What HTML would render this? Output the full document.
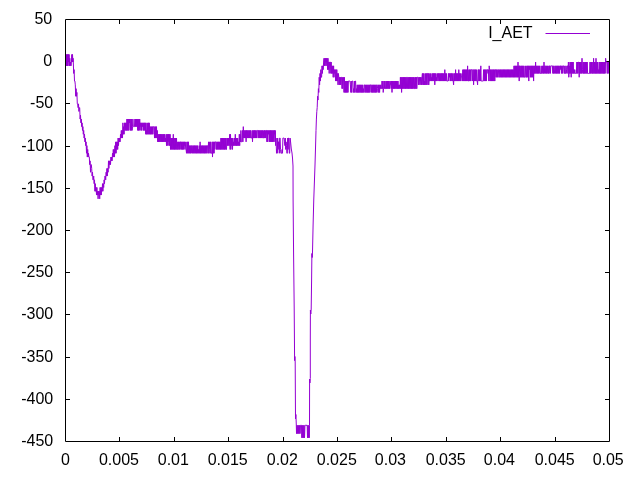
<!DOCTYPE html>
<html><head><meta charset="utf-8"><title>I_AET</title>
<style>
html,body{margin:0;padding:0;background:#fff;}
svg{display:block;will-change:transform;}
text{font-family:"Liberation Sans",sans-serif;font-size:16px;fill:#000;}
</style></head>
<body>
<svg width="640" height="480" viewBox="0 0 640 480">
<rect width="640" height="480" fill="#fff"/>
<path d="M119.5,441.5 v-4.5 M119.5,19.5 v4.5 M174.5,441.5 v-4.5 M174.5,19.5 v4.5 M228.5,441.5 v-4.5 M228.5,19.5 v4.5 M283.5,441.5 v-4.5 M283.5,19.5 v4.5 M337.5,441.5 v-4.5 M337.5,19.5 v4.5 M391.5,441.5 v-4.5 M391.5,19.5 v4.5 M446.5,441.5 v-4.5 M446.5,19.5 v4.5 M500.5,441.5 v-4.5 M500.5,19.5 v4.5 M555.5,441.5 v-4.5 M555.5,19.5 v4.5 M65.5,61.5 h4.5 M609.5,61.5 h-4.5 M65.5,103.5 h4.5 M609.5,103.5 h-4.5 M65.5,146.5 h4.5 M609.5,146.5 h-4.5 M65.5,188.5 h4.5 M609.5,188.5 h-4.5 M65.5,230.5 h4.5 M609.5,230.5 h-4.5 M65.5,272.5 h4.5 M609.5,272.5 h-4.5 M65.5,314.5 h4.5 M609.5,314.5 h-4.5 M65.5,357.5 h4.5 M609.5,357.5 h-4.5 M65.5,399.5 h4.5 M609.5,399.5 h-4.5 " stroke="#000" stroke-width="1" fill="none"/>
<text x="65.50" y="465.1" text-anchor="middle">0</text>
<text x="118.95" y="465.1" text-anchor="middle">0.005</text>
<text x="173.35" y="465.1" text-anchor="middle">0.01</text>
<text x="227.75" y="465.1" text-anchor="middle">0.015</text>
<text x="282.35" y="465.1" text-anchor="middle">0.02</text>
<text x="336.80" y="465.1" text-anchor="middle">0.025</text>
<text x="390.40" y="465.1" text-anchor="middle">0.03</text>
<text x="445.75" y="465.1" text-anchor="middle">0.035</text>
<text x="499.40" y="465.1" text-anchor="middle">0.04</text>
<text x="554.70" y="465.1" text-anchor="middle">0.045</text>
<text x="608.20" y="465.1" text-anchor="middle">0.05</text>
<text x="52.2" y="24" text-anchor="end">50</text>
<text x="52.2" y="66" text-anchor="end">0</text>
<text x="53.2" y="108" text-anchor="end">-50</text>
<text x="53.2" y="151" text-anchor="end">-100</text>
<text x="53.2" y="193" text-anchor="end">-150</text>
<text x="53.2" y="235" text-anchor="end">-200</text>
<text x="53.2" y="277" text-anchor="end">-250</text>
<text x="53.2" y="319" text-anchor="end">-300</text>
<text x="53.2" y="362" text-anchor="end">-350</text>
<text x="53.2" y="404" text-anchor="end">-400</text>
<text x="53.2" y="446" text-anchor="end">-450</text>

<text x="532.6" y="38" text-anchor="end">I_AET</text>
<path d="M545.5,33.5 H590" stroke="#9400d3" stroke-width="1" fill="none"/>
<path d="M66.00,65.85 L66.30,54.45 L66.65,65.85 L67.00,54.45 L67.35,65.85 L67.70,54.45 L68.05,65.85 L68.40,54.45 L68.75,62.05 L69.10,54.45 L69.45,65.85 L69.80,58.25 L70.20,65.85 L70.60,62.05 L71.00,65.85 L71.40,62.05 L71.80,54.45 L72.15,62.05 L72.50,54.45 L72.85,62.05 L73.10,58.25 L73.30,62.05 L73.70,73.45 L74.10,69.65 L74.50,81.05 L74.90,81.05 L75.30,84.85 L75.70,96.25 L76.10,88.65 L76.50,96.25 L76.90,92.45 L77.30,103.85 L77.70,103.85 L78.10,107.65 L78.50,103.85 L78.90,111.45 L79.30,107.65 L79.70,107.65 L80.10,119.05 L80.50,115.25 L80.90,122.85 L81.30,119.05 L81.70,126.65 L82.10,122.85 L82.50,130.45 L82.90,126.65 L83.30,134.25 L83.70,130.45 L84.10,138.05 L84.50,134.25 L84.90,141.85 L85.30,138.05 L85.70,145.65 L86.10,141.85 L86.50,153.25 L86.90,145.65 L87.30,157.05 L87.70,149.45 L88.10,157.05 L88.50,153.25 L88.90,157.05 L89.30,157.05 L89.70,164.65 L90.10,160.85 L90.50,172.25 L90.90,164.65 L91.30,164.65 L91.70,168.45 L92.10,176.05 L92.50,172.25 L92.90,179.85 L93.30,179.85 L93.70,176.05 L94.10,183.65 L94.50,179.85 L94.90,191.25 L95.30,183.65 L95.70,191.25 L96.10,187.45 L96.50,195.05 L96.90,187.45 L97.30,195.05 L97.70,191.25 L98.10,198.85 L98.50,191.25 L98.90,195.05 L99.30,191.25 L99.70,198.85 L100.10,187.45 L100.50,195.05 L100.90,187.45 L101.30,195.05 L101.70,187.45 L102.10,191.25 L102.50,183.65 L102.90,191.25 L103.30,183.65 L103.70,187.45 L104.10,179.85 L104.50,183.65 L104.90,176.05 L105.30,176.05 L105.70,179.85 L106.10,172.25 L106.50,176.05 L106.90,168.45 L107.30,176.05 L107.70,168.45 L108.10,172.25 L108.50,160.85 L108.90,168.45 L109.30,160.85 L109.70,164.65 L110.10,160.85 L110.50,164.65 L110.90,157.05 L111.30,160.85 L111.70,157.05 L112.10,160.85 L112.50,153.25 L112.90,157.05 L113.30,149.45 L113.70,157.05 L114.10,149.45 L114.50,157.05 L114.90,145.65 L115.30,153.25 L115.70,141.85 L116.10,153.25 L116.50,141.85 L116.90,149.45 L117.30,141.85 L117.70,149.45 L118.10,138.05 L118.50,145.65 L118.90,138.05 L119.30,141.85 L119.70,138.05 L120.10,141.85 L120.50,134.25 L120.90,138.05 L121.30,130.45 L121.70,138.05 L122.10,130.45 L122.50,138.05 L122.90,122.85 L123.30,134.25 L123.70,126.65 L124.10,134.25 L124.50,122.85 L124.90,130.45 L125.30,122.85 L125.70,130.45 L126.10,122.85 L126.50,130.45 L126.90,119.05 L127.30,130.45 L127.70,119.05 L128.10,130.45 L128.50,119.05 L128.90,130.45 L129.30,119.05 L129.70,122.85 L130.10,119.05 L130.50,130.45 L130.90,119.05 L131.30,130.45 L131.70,119.05 L132.10,130.45 L132.50,126.65 L132.90,119.05 L133.30,126.65 L133.70,126.65 L134.10,126.65 L134.50,126.65 L134.90,119.05 L135.30,126.65 L135.70,119.05 L136.10,126.65 L136.50,119.05 L136.90,126.65 L137.30,119.05 L137.70,130.45 L138.10,119.05 L138.50,130.45 L138.90,119.05 L139.30,130.45 L139.70,119.05 L140.10,126.65 L140.50,122.85 L140.90,130.45 L141.30,122.85 L141.70,130.45 L142.10,122.85 L142.50,126.65 L142.90,122.85 L143.30,130.45 L143.70,122.85 L144.10,130.45 L144.50,122.85 L144.90,130.45 L145.30,122.85 L145.70,134.25 L146.10,122.85 L146.50,134.25 L146.90,130.45 L147.30,134.25 L147.70,122.85 L148.10,134.25 L148.50,122.85 L148.90,134.25 L149.30,122.85 L149.70,134.25 L150.10,126.65 L150.50,134.25 L150.90,126.65 L151.30,134.25 L151.70,126.65 L152.10,134.25 L152.50,126.65 L152.90,134.25 L153.30,126.65 L153.70,126.65 L154.10,126.65 L154.50,138.05 L154.90,126.65 L155.30,138.05 L155.70,126.65 L156.10,138.05 L156.50,126.65 L156.90,138.05 L157.30,130.45 L157.70,141.85 L158.10,134.25 L158.50,141.85 L158.90,134.25 L159.30,141.85 L159.70,134.25 L160.10,141.85 L160.50,134.25 L160.90,141.85 L161.30,134.25 L161.70,141.85 L162.10,134.25 L162.50,141.85 L162.90,134.25 L163.30,141.85 L163.70,134.25 L164.10,141.85 L164.50,134.25 L164.90,141.85 L165.30,138.05 L165.70,141.85 L166.10,134.25 L166.50,145.65 L166.90,134.25 L167.30,145.65 L167.70,134.25 L168.10,141.85 L168.50,134.25 L168.90,145.65 L169.30,134.25 L169.70,145.65 L170.10,134.25 L170.50,149.45 L170.90,138.05 L171.30,149.45 L171.70,138.05 L172.10,149.45 L172.50,138.05 L172.90,149.45 L173.30,134.25 L173.70,149.45 L174.10,138.05 L174.50,149.45 L174.90,138.05 L175.30,149.45 L175.70,138.05 L176.10,149.45 L176.50,138.05 L176.90,149.45 L177.30,141.85 L177.70,149.45 L178.10,149.45 L178.50,141.85 L178.90,149.45 L179.30,141.85 L179.70,149.45 L180.10,141.85 L180.50,141.85 L180.90,149.45 L181.30,141.85 L181.70,149.45 L182.10,141.85 L182.50,149.45 L182.90,141.85 L183.30,149.45 L183.70,141.85 L184.10,149.45 L184.50,141.85 L184.90,145.65 L185.30,141.85 L185.70,149.45 L186.10,149.45 L186.50,153.25 L186.90,141.85 L187.30,153.25 L187.70,141.85 L188.10,153.25 L188.50,141.85 L188.90,153.25 L189.30,145.65 L189.70,153.25 L190.10,145.65 L190.50,153.25 L190.90,145.65 L191.30,153.25 L191.70,145.65 L192.10,145.65 L192.50,153.25 L192.90,145.65 L193.30,153.25 L193.70,145.65 L194.10,153.25 L194.50,145.65 L194.90,153.25 L195.30,145.65 L195.70,153.25 L196.10,145.65 L196.50,153.25 L196.90,145.65 L197.30,153.25 L197.70,145.65 L198.10,153.25 L198.50,149.45 L198.90,153.25 L199.30,145.65 L199.70,153.25 L200.10,141.85 L200.50,153.25 L200.90,145.65 L201.30,153.25 L201.70,145.65 L202.10,153.25 L202.50,145.65 L202.90,153.25 L203.30,145.65 L203.70,153.25 L204.10,145.65 L204.50,153.25 L204.90,145.65 L205.30,153.25 L205.70,145.65 L206.10,153.25 L206.50,145.65 L206.90,153.25 L207.30,145.65 L207.70,145.65 L208.10,153.25 L208.50,141.85 L208.90,153.25 L209.30,149.45 L209.70,141.85 L210.10,153.25 L210.50,141.85 L210.90,153.25 L211.30,153.25 L211.70,153.25 L212.10,141.85 L212.50,157.05 L212.90,141.85 L213.30,153.25 L213.70,141.85 L214.10,153.25 L214.50,141.85 L214.90,149.45 L215.30,141.85 L215.70,141.85 L216.10,141.85 L216.50,149.45 L216.90,141.85 L217.30,149.45 L217.70,141.85 L218.10,149.45 L218.50,141.85 L218.90,149.45 L219.30,141.85 L219.70,149.45 L220.10,141.85 L220.50,149.45 L220.90,138.05 L221.30,149.45 L221.70,138.05 L222.10,149.45 L222.50,138.05 L222.90,149.45 L223.30,138.05 L223.70,149.45 L224.10,138.05 L224.50,149.45 L224.90,138.05 L225.30,149.45 L225.70,138.05 L226.10,149.45 L226.50,149.45 L226.90,138.05 L227.30,145.65 L227.70,138.05 L228.10,145.65 L228.50,138.05 L228.90,145.65 L229.30,145.65 L229.70,134.25 L230.10,149.45 L230.50,134.25 L230.90,149.45 L231.30,138.05 L231.70,145.65 L232.10,138.05 L232.50,149.45 L232.90,138.05 L233.30,145.65 L233.70,141.85 L234.10,145.65 L234.50,138.05 L234.90,145.65 L235.30,134.25 L235.70,145.65 L236.10,138.05 L236.50,145.65 L236.90,138.05 L237.30,145.65 L237.70,138.05 L238.10,145.65 L238.50,141.85 L238.90,145.65 L239.30,134.25 L239.70,145.65 L240.10,134.25 L240.50,141.85 L240.90,130.45 L241.30,141.85 L241.70,141.85 L242.10,141.85 L242.50,130.45 L242.90,141.85 L243.30,126.65 L243.70,138.05 L244.10,130.45 L244.50,138.05 L244.90,130.45 L245.30,138.05 L245.70,130.45 L246.10,141.85 L246.50,130.45 L246.90,138.05 L247.30,130.45 L247.70,138.05 L248.10,130.45 L248.50,138.05 L248.90,130.45 L249.30,138.05 L249.70,130.45 L250.10,138.05 L250.50,130.45 L250.90,138.05 L251.30,138.05 L251.70,138.05 L252.10,130.45 L252.50,141.85 L252.90,130.45 L253.30,138.05 L253.70,130.45 L254.10,138.05 L254.50,130.45 L254.90,138.05 L255.30,130.45 L255.70,138.05 L256.10,130.45 L256.50,138.05 L256.90,130.45 L257.30,130.45 L257.70,130.45 L258.10,138.05 L258.50,130.45 L258.90,138.05 L259.30,130.45 L259.70,138.05 L260.10,130.45 L260.50,138.05 L260.90,130.45 L261.30,138.05 L261.70,130.45 L262.10,138.05 L262.50,130.45 L262.90,138.05 L263.30,138.05 L263.70,130.45 L264.10,138.05 L264.50,130.45 L264.90,138.05 L265.30,130.45 L265.70,138.05 L266.10,130.45 L266.50,130.45 L266.90,141.85 L267.30,130.45 L267.70,141.85 L268.10,130.45 L268.50,134.25 L268.90,130.45 L269.30,141.85 L269.70,130.45 L270.10,141.85 L270.50,130.45 L270.90,141.85 L271.30,130.45 L271.70,141.85 L272.10,130.45 L272.50,141.85 L272.90,130.45 L273.30,141.85 L273.70,130.45 L274.10,134.25 L274.50,130.45 L274.90,141.85 L275.30,130.45 L275.70,145.65 L276.10,138.05 L276.50,153.25 L276.90,149.45 L277.30,153.25 L277.70,138.05 L278.10,149.45 L278.50,141.85 L278.90,141.85 L279.30,153.25 L279.70,138.05 L280.10,138.05 L280.50,149.45 L280.90,153.25 L281.30,153.25 L281.70,153.25 L282.10,149.45 L282.50,153.25 L282.90,138.05 L283.30,138.05 L283.70,138.05 L284.10,138.05 L284.50,141.85 L284.90,145.65 L285.30,138.05 L285.70,149.45 L286.10,141.85 L286.50,145.65 L286.90,153.25 L287.30,153.25 L287.70,138.05 L288.10,149.45 L288.50,138.05 L288.90,138.05 L289.30,153.25 L289.70,153.25 L290.10,138.05 L290.60,142.00 L291.30,149.00 L292.00,153.00 L292.50,158.00 L293.00,166.00 L293.10,200.00 L293.60,255.00 L294.20,308.00 L294.60,360.60 L294.90,356.50 L295.20,362.00 L295.50,418.80 L295.90,414.50 L296.30,425.00 L296.50,433.60 L296.95,425.30 L297.40,433.60 L297.85,425.30 L298.30,433.60 L298.75,425.30 L299.20,433.60 L299.65,425.30 L300.10,433.60 L300.50,425.30 L301.50,425.30 L301.80,437.80 L302.25,425.30 L302.70,437.80 L303.15,425.30 L303.60,437.80 L304.05,425.30 L304.50,437.80 L304.95,425.30 L305.60,425.30 L307.20,425.30 L307.50,437.80 L307.95,425.30 L308.40,437.80 L308.85,425.30 L309.30,437.80 L309.50,425.30 L309.60,379.00 L309.90,383.00 L310.30,378.50 L310.30,340.00 L310.40,310.20 L310.80,314.00 L311.20,309.00 L311.60,280.00 L311.90,253.50 L312.20,257.50 L312.50,252.00 L313.10,225.00 L313.75,200.00 L315.00,165.00 L315.60,145.00 L316.00,130.45 L316.40,119.05 L316.80,111.45 L317.20,107.65 L317.60,96.25 L318.00,100.05 L318.40,88.65 L318.80,92.45 L319.20,77.25 L319.60,84.85 L320.00,73.45 L320.40,81.05 L320.80,69.65 L321.20,77.25 L321.60,77.25 L322.00,65.85 L322.40,73.45 L322.80,65.85 L323.20,69.65 L323.60,62.05 L324.00,58.25 L324.40,65.85 L324.80,58.25 L325.20,65.85 L325.60,58.25 L326.00,62.05 L326.40,58.25 L326.80,65.85 L327.20,58.25 L327.60,69.65 L328.00,58.25 L328.40,69.65 L328.80,62.05 L329.20,73.45 L329.60,62.05 L330.00,62.05 L330.40,62.05 L330.80,73.45 L331.20,62.05 L331.60,73.45 L332.00,65.85 L332.40,73.45 L332.80,65.85 L333.20,77.25 L333.60,65.85 L334.00,77.25 L334.40,69.65 L334.80,73.45 L335.20,69.65 L335.60,81.05 L336.00,69.65 L336.40,81.05 L336.80,69.65 L337.20,81.05 L337.60,73.45 L338.00,84.85 L338.40,73.45 L338.80,77.25 L339.20,84.85 L339.60,77.25 L340.00,84.85 L340.40,77.25 L340.80,84.85 L341.20,77.25 L341.60,77.25 L342.00,88.65 L342.40,77.25 L342.80,88.65 L343.20,81.05 L343.60,77.25 L344.00,92.45 L344.40,77.25 L344.80,92.45 L345.20,81.05 L345.60,92.45 L346.00,81.05 L346.40,92.45 L346.80,81.05 L347.20,92.45 L347.60,81.05 L348.00,92.45 L348.40,81.05 L348.80,81.05 L349.20,81.05 L349.60,81.05 L350.00,81.05 L350.40,84.85 L350.80,92.45 L351.20,81.05 L351.60,92.45 L352.00,81.05 L352.40,81.05 L352.80,81.05 L353.20,92.45 L353.60,88.65 L354.00,92.45 L354.40,81.05 L354.80,92.45 L355.20,81.05 L355.60,81.05 L356.00,92.45 L356.40,88.65 L356.80,92.45 L357.20,84.85 L357.60,92.45 L358.00,84.85 L358.40,92.45 L358.80,84.85 L359.20,92.45 L359.60,84.85 L360.00,92.45 L360.40,84.85 L360.80,92.45 L361.20,84.85 L361.60,92.45 L362.00,84.85 L362.40,92.45 L362.80,84.85 L363.20,92.45 L363.60,88.65 L364.00,92.45 L364.40,84.85 L364.80,84.85 L365.20,92.45 L365.60,84.85 L366.00,92.45 L366.40,84.85 L366.80,92.45 L367.20,84.85 L367.60,92.45 L368.00,84.85 L368.40,92.45 L368.80,84.85 L369.20,92.45 L369.60,84.85 L370.00,92.45 L370.40,84.85 L370.80,84.85 L371.20,84.85 L371.60,92.45 L372.00,84.85 L372.40,92.45 L372.80,84.85 L373.20,92.45 L373.60,84.85 L374.00,92.45 L374.40,84.85 L374.80,92.45 L375.20,84.85 L375.60,92.45 L376.00,84.85 L376.40,92.45 L376.80,84.85 L377.20,84.85 L377.60,88.65 L378.00,92.45 L378.40,84.85 L378.80,92.45 L379.20,84.85 L379.60,92.45 L380.00,84.85 L380.40,88.65 L380.80,84.85 L381.20,88.65 L381.60,88.65 L382.00,81.05 L382.40,88.65 L382.80,81.05 L383.20,92.45 L383.60,88.65 L384.00,81.05 L384.40,88.65 L384.80,81.05 L385.20,88.65 L385.60,88.65 L386.00,81.05 L386.40,88.65 L386.80,81.05 L387.20,88.65 L387.60,81.05 L388.00,88.65 L388.40,81.05 L388.80,88.65 L389.20,81.05 L389.60,88.65 L390.00,84.85 L390.40,84.85 L390.80,81.05 L391.20,88.65 L391.60,81.05 L392.00,92.45 L392.40,81.05 L392.80,88.65 L393.20,81.05 L393.60,88.65 L394.00,81.05 L394.40,88.65 L394.80,81.05 L395.20,88.65 L395.60,81.05 L396.00,88.65 L396.40,81.05 L396.80,88.65 L397.20,81.05 L397.60,88.65 L398.00,81.05 L398.40,88.65 L398.80,84.85 L399.20,88.65 L399.60,84.85 L400.00,88.65 L400.40,77.25 L400.80,88.65 L401.20,77.25 L401.60,92.45 L402.00,77.25 L402.40,88.65 L402.80,77.25 L403.20,88.65 L403.60,77.25 L404.00,88.65 L404.40,77.25 L404.80,88.65 L405.20,77.25 L405.60,88.65 L406.00,77.25 L406.40,88.65 L406.80,77.25 L407.20,77.25 L407.60,88.65 L408.00,77.25 L408.40,88.65 L408.80,77.25 L409.20,88.65 L409.60,77.25 L410.00,88.65 L410.40,77.25 L410.80,88.65 L411.20,77.25 L411.60,88.65 L412.00,77.25 L412.40,88.65 L412.80,77.25 L413.20,88.65 L413.60,77.25 L414.00,88.65 L414.40,88.65 L414.80,77.25 L415.20,88.65 L415.60,77.25 L416.00,88.65 L416.40,77.25 L416.80,88.65 L417.20,77.25 L417.60,77.25 L418.00,77.25 L418.40,84.85 L418.80,77.25 L419.20,84.85 L419.60,77.25 L420.00,81.05 L420.40,77.25 L420.80,84.85 L421.20,77.25 L421.60,84.85 L422.00,77.25 L422.40,73.45 L422.80,84.85 L423.20,73.45 L423.60,84.85 L424.00,73.45 L424.40,84.85 L424.80,81.05 L425.20,84.85 L425.60,73.45 L426.00,84.85 L426.40,73.45 L426.80,84.85 L427.20,73.45 L427.60,73.45 L428.00,84.85 L428.40,73.45 L428.80,84.85 L429.20,73.45 L429.60,81.05 L430.00,81.05 L430.40,73.45 L430.80,81.05 L431.20,77.25 L431.60,81.05 L432.00,73.45 L432.40,81.05 L432.80,73.45 L433.20,81.05 L433.60,73.45 L434.00,81.05 L434.40,73.45 L434.80,84.85 L435.20,73.45 L435.60,81.05 L436.00,73.45 L436.40,81.05 L436.80,77.25 L437.20,81.05 L437.60,73.45 L438.00,77.25 L438.40,73.45 L438.80,81.05 L439.20,73.45 L439.60,81.05 L440.00,73.45 L440.40,81.05 L440.80,73.45 L441.20,81.05 L441.60,73.45 L442.00,81.05 L442.40,73.45 L442.80,81.05 L443.20,73.45 L443.60,81.05 L444.00,73.45 L444.40,81.05 L444.80,69.65 L445.20,81.05 L445.60,73.45 L446.00,81.05 L446.40,73.45 L446.80,81.05 L447.20,81.05 L447.60,81.05 L448.00,81.05 L448.40,73.45 L448.80,81.05 L449.20,73.45 L449.60,77.25 L450.00,73.45 L450.40,81.05 L450.80,73.45 L451.20,81.05 L451.60,73.45 L452.00,73.45 L452.40,81.05 L452.80,73.45 L453.20,81.05 L453.60,84.85 L454.00,73.45 L454.40,81.05 L454.80,73.45 L455.20,81.05 L455.60,69.65 L456.00,81.05 L456.40,73.45 L456.80,81.05 L457.20,73.45 L457.60,81.05 L458.00,73.45 L458.40,81.05 L458.80,69.65 L459.20,81.05 L459.60,73.45 L460.00,81.05 L460.40,73.45 L460.80,81.05 L461.20,77.25 L461.60,77.25 L462.00,73.45 L462.40,81.05 L462.80,69.65 L463.20,81.05 L463.60,69.65 L464.00,81.05 L464.40,69.65 L464.80,81.05 L465.20,69.65 L465.60,81.05 L466.00,69.65 L466.40,81.05 L466.80,69.65 L467.20,81.05 L467.60,65.85 L468.00,81.05 L468.40,81.05 L468.80,69.65 L469.20,81.05 L469.60,69.65 L470.00,81.05 L470.40,69.65 L470.80,81.05 L471.20,69.65 L471.60,69.65 L472.00,69.65 L472.40,81.05 L472.80,69.65 L473.20,69.65 L473.60,84.85 L474.00,69.65 L474.40,81.05 L474.80,69.65 L475.20,81.05 L475.60,69.65 L476.00,81.05 L476.40,69.65 L476.80,81.05 L477.20,81.05 L477.60,84.85 L478.00,69.65 L478.40,69.65 L478.80,81.05 L479.20,69.65 L479.60,81.05 L480.00,69.65 L480.40,81.05 L480.80,65.85 L481.20,81.05 L481.60,81.05 L482.00,81.05 L482.40,81.05 L482.80,81.05 L483.20,81.05 L483.60,69.65 L484.00,81.05 L484.40,69.65 L484.80,81.05 L485.20,69.65 L485.60,81.05 L486.00,69.65 L486.40,81.05 L486.80,69.65 L487.20,69.65 L487.60,69.65 L488.00,73.45 L488.40,69.65 L488.80,81.05 L489.20,65.85 L489.60,69.65 L490.00,81.05 L490.40,69.65 L490.80,81.05 L491.20,69.65 L491.60,81.05 L492.00,69.65 L492.40,81.05 L492.80,69.65 L493.20,81.05 L493.60,69.65 L494.00,81.05 L494.40,69.65 L494.80,81.05 L495.20,69.65 L495.60,69.65 L496.00,77.25 L496.40,69.65 L496.80,77.25 L497.20,69.65 L497.60,77.25 L498.00,69.65 L498.40,69.65 L498.80,77.25 L499.20,77.25 L499.60,69.65 L500.00,77.25 L500.40,69.65 L500.80,77.25 L501.20,69.65 L501.60,77.25 L502.00,69.65 L502.40,77.25 L502.80,69.65 L503.20,77.25 L503.60,69.65 L504.00,77.25 L504.40,69.65 L504.80,77.25 L505.20,69.65 L505.60,77.25 L506.00,69.65 L506.40,77.25 L506.80,69.65 L507.20,77.25 L507.60,69.65 L508.00,77.25 L508.40,69.65 L508.80,77.25 L509.20,69.65 L509.60,77.25 L510.00,69.65 L510.40,77.25 L510.80,69.65 L511.20,77.25 L511.60,69.65 L512.00,77.25 L512.40,69.65 L512.80,77.25 L513.20,69.65 L513.60,77.25 L514.00,65.85 L514.40,77.25 L514.80,65.85 L515.20,77.25 L515.60,65.85 L516.00,77.25 L516.40,65.85 L516.80,77.25 L517.20,65.85 L517.60,77.25 L518.00,62.05 L518.40,77.25 L518.80,65.85 L519.20,81.05 L519.60,65.85 L520.00,65.85 L520.40,77.25 L520.80,65.85 L521.20,77.25 L521.60,65.85 L522.00,77.25 L522.40,65.85 L522.80,77.25 L523.20,65.85 L523.60,77.25 L524.00,65.85 L524.40,77.25 L524.80,77.25 L525.20,77.25 L525.60,65.85 L526.00,77.25 L526.40,77.25 L526.80,65.85 L527.20,77.25 L527.60,65.85 L528.00,77.25 L528.40,65.85 L528.80,81.05 L529.20,65.85 L529.60,69.65 L530.00,65.85 L530.40,77.25 L530.80,65.85 L531.20,77.25 L531.60,65.85 L532.00,77.25 L532.40,65.85 L532.80,77.25 L533.20,65.85 L533.60,81.05 L534.00,65.85 L534.40,73.45 L534.80,65.85 L535.20,73.45 L535.60,62.05 L536.00,73.45 L536.40,65.85 L536.80,73.45 L537.20,65.85 L537.60,73.45 L538.00,65.85 L538.40,73.45 L538.80,65.85 L539.20,73.45 L539.60,65.85 L540.00,73.45 L540.40,73.45 L540.80,73.45 L541.20,65.85 L541.60,73.45 L542.00,73.45 L542.40,65.85 L542.80,73.45 L543.20,65.85 L543.60,73.45 L544.00,62.05 L544.40,73.45 L544.80,65.85 L545.20,65.85 L545.60,73.45 L546.00,65.85 L546.40,73.45 L546.80,65.85 L547.20,73.45 L547.60,65.85 L548.00,73.45 L548.40,73.45 L548.80,65.85 L549.20,73.45 L549.60,65.85 L550.00,65.85 L550.40,73.45 L550.80,65.85 L551.20,65.85 L551.60,65.85 L552.00,65.85 L552.40,65.85 L552.80,73.45 L553.20,65.85 L553.60,73.45 L554.00,65.85 L554.40,73.45 L554.80,69.65 L555.20,65.85 L555.60,73.45 L556.00,65.85 L556.40,73.45 L556.80,65.85 L557.20,73.45 L557.60,65.85 L558.00,73.45 L558.40,65.85 L558.80,73.45 L559.20,65.85 L559.60,73.45 L560.00,65.85 L560.40,65.85 L560.80,69.65 L561.20,65.85 L561.60,73.45 L562.00,65.85 L562.40,73.45 L562.80,65.85 L563.20,65.85 L563.60,65.85 L564.00,73.45 L564.40,73.45 L564.80,65.85 L565.20,73.45 L565.60,73.45 L566.00,65.85 L566.40,69.65 L566.80,73.45 L567.20,65.85 L567.60,65.85 L568.00,73.45 L568.40,62.05 L568.80,77.25 L569.20,65.85 L569.60,73.45 L570.00,62.05 L570.40,73.45 L570.80,62.05 L571.20,77.25 L571.60,62.05 L572.00,73.45 L572.40,62.05 L572.80,73.45 L573.20,62.05 L573.60,73.45 L574.00,69.65 L574.40,73.45 L574.80,69.65 L575.20,73.45 L575.60,73.45 L576.00,73.45 L576.40,73.45 L576.80,62.05 L577.20,73.45 L577.60,62.05 L578.00,73.45 L578.40,62.05 L578.80,62.05 L579.20,77.25 L579.60,62.05 L580.00,73.45 L580.40,62.05 L580.80,73.45 L581.20,62.05 L581.60,73.45 L582.00,58.25 L582.40,69.65 L582.80,73.45 L583.20,62.05 L583.60,73.45 L584.00,62.05 L584.40,73.45 L584.80,62.05 L585.20,73.45 L585.60,62.05 L586.00,73.45 L586.40,62.05 L586.80,73.45 L587.20,62.05 L587.60,73.45 L588.00,73.45 L588.40,73.45 L588.80,73.45 L589.20,73.45 L589.60,73.45 L590.00,62.05 L590.40,73.45 L590.80,62.05 L591.20,73.45 L591.60,62.05 L592.00,73.45 L592.40,73.45 L592.80,62.05 L593.20,73.45 L593.60,58.25 L594.00,73.45 L594.40,62.05 L594.80,73.45 L595.20,62.05 L595.60,73.45 L596.00,58.25 L596.40,73.45 L596.80,62.05 L597.20,73.45 L597.60,62.05 L598.00,73.45 L598.40,69.65 L598.80,73.45 L599.20,62.05 L599.60,73.45 L600.00,62.05 L600.40,73.45 L600.80,62.05 L601.20,73.45 L601.60,62.05 L602.00,73.45 L602.40,62.05 L602.80,73.45 L603.20,62.05 L603.60,73.45 L604.00,62.05 L604.40,73.45 L604.80,62.05 L605.20,73.45 L605.60,58.25 L606.00,62.05 L606.40,62.05 L606.80,62.05 L607.20,73.45 L607.60,62.05 L608.00,73.45 L608.40,62.05 L608.80,73.45" stroke="#9400d3" stroke-width="1" fill="none" stroke-linejoin="miter" stroke-miterlimit="4"/>
<path d="M65.5,19.5 V441.5 H609.5 V19.5 Z" stroke="#000" stroke-width="1" fill="none"/>
</svg>
</body></html>
